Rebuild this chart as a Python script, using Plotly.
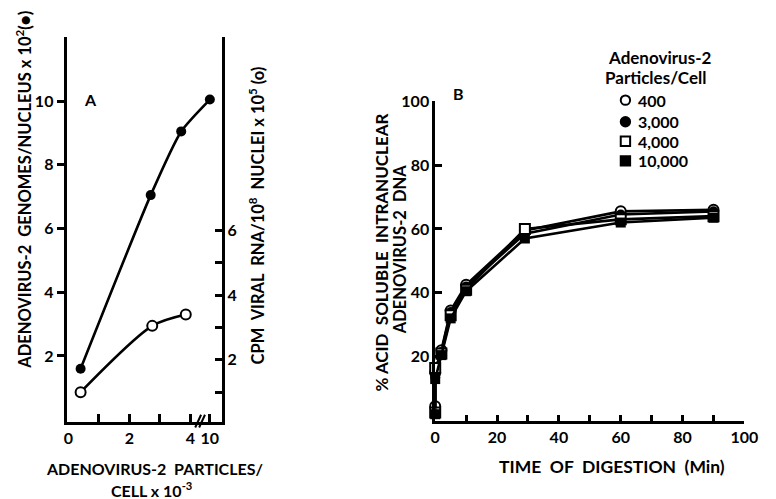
import plotly.graph_objects as go

W, H = 776, 499

# ---- Panel A: genomes and viral RNA versus input multiplicity ----
particles_genomes = [0.4, 2.7, 3.7, 10]         # particles/cell x 10^-3
genomes_per_nucleus = [1.6, 7.05, 9.05, 10.05]  # x 10^2 (filled circles)
particles_rna = [0.4, 2.75, 3.85]
cpm_viral_rna = [1.0, 3.05, 3.4]                # x 10^5 (open circles)

a_xticks = [0, 2, 4, 10]
a_xticklabels = ["0", "2", "4", "10"]
a_xminor = [1, 3]
a_yticks = [2, 4, 6, 8, 10]
a_y2ticks = [2, 4, 6]
a_y2minor = [1, 3, 5]

# ---- Panel B: acid-soluble intranuclear DNA versus digestion time ----
digestion_min = [0, 0, 2, 5, 10, 29, 60, 90]
acid_400 = [4.5, 15, 22, 34.5, 42.5, 59.5, 65.5, 66]
acid_3000 = [2.5, 13.5, 21.5, 34, 42, 58.5, 64.5, 65.5]
acid_4000 = [2.5, 16.5, 21, 33, 41, 60, 63, 64]
acid_10000 = [2, 13, 20.5, 32, 40.5, 57, 62, 63.5]
series_names = ["400", "3,000", "4,000", "10,000"]

b_xticks = [0, 20, 40, 60, 80, 100]
b_xminor = [10, 30, 50, 70, 90]
b_yticks = [20, 40, 60, 80, 100]

BREAK_AT = 4.0


def broken_x(v):
    """Compress the stretch of the particle axis beyond the // break."""
    return v if v <= BREAK_AT else BREAK_AT + 0.64 * (v - BREAK_AT) / 6.0


def px(x):
    return x / W


def py(y):
    return 1 - y / H


FONT = dict(family="Lato", size=16, color="black", weight="bold")
LW = 2.6

fig = go.Figure()

fig.add_trace(go.Scatter(
    x=[broken_x(v) for v in particles_genomes], y=genomes_per_nucleus,
    mode="lines+markers", line=dict(color="black", width=LW, shape="spline", smoothing=0.6),
    marker=dict(symbol="circle", size=10, color="black"),
    xaxis="x", yaxis="y", cliponaxis=False))
fig.add_trace(go.Scatter(
    x=[broken_x(v) for v in particles_rna], y=cpm_viral_rna,
    mode="lines+markers", line=dict(color="black", width=LW, shape="spline", smoothing=0.8),
    marker=dict(symbol="circle", size=10, color="white", line=dict(color="black", width=2)),
    xaxis="x", yaxis="y2", cliponaxis=False))

styles = [
    dict(symbol="circle", color="white", line=dict(color="black", width=2)),
    dict(symbol="circle", color="black"),
    dict(symbol="square", color="white", line=dict(color="black", width=2)),
    dict(symbol="square", color="black"),
]
for vals, st in zip([acid_400, acid_3000, acid_4000, acid_10000], styles):
    fig.add_trace(go.Scatter(
        x=digestion_min, y=vals, mode="lines+markers",
        line=dict(color="black", width=LW),
        marker=dict(size=10, **st), xaxis="x3", yaxis="y3", cliponaxis=False))

axis_common = dict(showline=True, linecolor="black", linewidth=LW, showgrid=False,
                   zeroline=False, tickcolor="black", tickwidth=LW, tickfont=FONT)


def minor(vals, ticks, length):
    return dict(tickmode="array", tickvals=vals, ticks=ticks, ticklen=length,
                tickwidth=LW, tickcolor="black", showgrid=False)


fig.update_layout(
    width=W, height=H, margin=dict(l=0, r=0, t=0, b=0),
    paper_bgcolor="white", plot_bgcolor="white", showlegend=False, font=FONT,
    xaxis=dict(domain=[px(64), px(222)], range=[-0.032, 5.024], anchor="y",
               tickmode="array", tickvals=[broken_x(v) for v in a_xticks],
               ticktext=a_xticklabels, ticks="inside", ticklen=8,
               minor=minor(a_xminor, "inside", 8), **axis_common),
    yaxis=dict(domain=[py(420), py(28)], range=[-0.06, 12.0], anchor="x",
               tickmode="array", tickvals=a_yticks, ticks="outside", ticklen=8,
               **axis_common),
    yaxis2=dict(range=[0.09, 11.97], overlaying="y", side="right", anchor="x",
                tickmode="array", tickvals=a_y2ticks, ticks="inside", ticklen=7,
                minor=minor(a_y2minor, "inside", 7), **axis_common),
    xaxis3=dict(domain=[px(441), px(758)], range=[0, 100], anchor="y3",
                tickmode="array", tickvals=b_xticks, ticks="inside", ticklen=6,
                minor=minor(b_xminor, "inside", 6), **axis_common),
    yaxis3=dict(domain=[py(419), py(93)], range=[0, 100], anchor="x3",
                tickmode="array", tickvals=b_yticks, ticks="inside", ticklen=7,
                **axis_common),
)

NB = "\u00a0"


def label(text, x, y, angle=0, size=16, xanchor="center"):
    fig.add_annotation(text=text, x=px(x), y=py(y), xref="paper", yref="paper",
                       showarrow=False, textangle=angle, xanchor=xanchor, yanchor="middle",
                       font=dict(FONT, size=size), borderpad=0)


# Panel A titles
label("A", 88, 91)
label(f"ADENOVIRUS-2{NB}{NB}GENOMES/NUCLEUS{NB}x{NB}10<sup>2</sup>(●)", 20, 184,
      angle=-90, size=16.5)
label(f"CPM{NB}{NB}VIRAL{NB}{NB}RNA/10<sup>8</sup>{NB}{NB}NUCLEI{NB}x{NB}10<sup>5</sup>{NB}(o)",
      258, 210, angle=-90, size=16.5)
label(f"ADENOVIRUS-2{NB}{NB}PARTICLES/", 153, 468)
label(f"CELL{NB}x{NB}10<sup>-3</sup>", 150, 489)

# Panel B titles
label("B", 465, 85)
label(f"%{NB}ACID{NB}{NB}SOLUBLE{NB}{NB}INTRANUCLEAR", 385, 248, angle=-90, size=17)
label(f"ADENOVIRUS-2{NB}{NB}DNA", 405, 245, angle=-90, size=16.5)
label(f"TIME{NB}{NB}OF{NB}{NB}DIGESTION{NB}{NB}(Min)", 622, 466, size=17.5)

# Key
label("Adenovirus-2", 671, 48, size=17)
label("Particles/Cell", 667, 69, size=17)
key_y = [92, 114, 134, 154]
for name, st, yk in zip(series_names, styles, key_y):
    label(name, 648, yk, xanchor="left", size=16)
    r = 4.8
    filled = st["color"] == "black"
    fig.add_shape(type="circle" if st["symbol"] == "circle" else "rect",
                  xref="paper", yref="paper",
                  x0=px(636 - r), x1=px(636 + r), y0=py(yk + r), y1=py(yk - r),
                  fillcolor="black" if filled else "white",
                  line=dict(color="black", width=2))

# Break marks on the particle axis
for dx in (0, 4):
    fig.add_shape(type="line", xref="paper", yref="paper",
                  x0=px(195 + dx), y0=py(426), x1=px(201 + dx), y1=py(413),
                  line=dict(color="black", width=2))

fig.write_html("out.html")
